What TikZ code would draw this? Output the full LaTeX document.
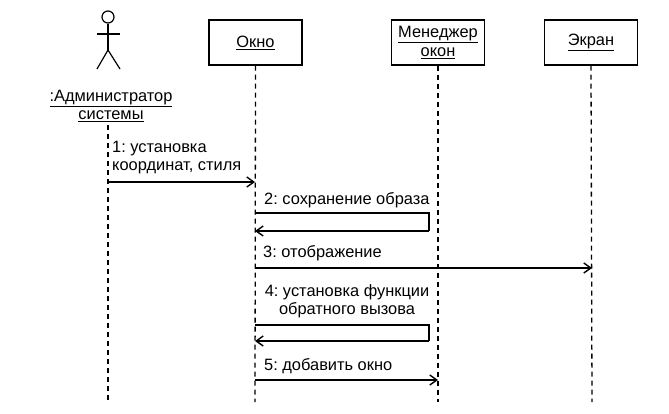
\documentclass[tikz,border=0pt]{standalone}
\usepackage{fontspec}
\setmainfont{Liberation Sans}
\usetikzlibrary{arrows.meta}
\frenchspacing
\begin{document}
\begin{tikzpicture}[x=1pt,y=-1pt,
  obj/.style={draw,line width=1.4pt,minimum width=93pt,minimum height=45pt,inner sep=0pt,align=center,font=\fontsize{16.4}{19.5}\selectfont},
  life/.style={line width=1.3pt,dash pattern=on 5pt off 4pt},
  msgline/.style={line width=1.4pt},
  msg/.style={msgline,-{Straight Barb[length=7pt,width=10pt,line width=1.4pt]}},
  lbl/.style={inner sep=0pt,font=\fontsize{16.4}{18}\selectfont},
  figure/.style={line width=1.2pt}]
\useasboundingbox (0,0) rectangle (669,413);
% actor
\node[figure,draw,circle,minimum size=12pt,inner sep=0pt] (head) at (108,17) {};
\coordinate (hip) at (108,50);
\coordinate (larm) at (97,34);
\coordinate (rarm) at (120,34);
\coordinate (lleg) at (97,69);
\coordinate (rleg) at (120,69);
\draw[figure] (head.south) -- (hip);
\draw[figure] (larm) -- (rarm);
\draw[figure] (lleg) -- (hip) -- (rleg);
\node[lbl,align=center] (actor) at (111,106) {\underline{:Администратор}\\\underline{системы}};
% objects
\node[obj] (okno) at (255.5,42.5) {\underline{Окно}};
\node[obj] (mgr) at (438,42.5) {\underline{Менеджер}\\\underline{окон}};
\node[obj] (scr) at (591,42.5) {\underline{Экран}};
% lifelines
\coordinate (actorTop) at (108,125);
\coordinate (actorEnd) at (108,402);
\coordinate (oknoEnd) at (255,402);
\coordinate (mgrEnd) at (438,402);
\coordinate (scrEnd) at (592,402);
\draw[life] (actorTop) -- (actorEnd);
\draw[life] (okno.south) -- (oknoEnd);
\draw[life] (mgr.south) -- (mgrEnd);
\draw[life] (scr.south) -- (scrEnd);
% message 1
\coordinate (m1a) at (108,182);
\coordinate (m1b) at (255,182);
\draw[msg] (m1a) -- (m1b);
\node[lbl,align=left,anchor=south west] (l1) at (112,174) {1: установка\\координат, стиля};
% message 2
\coordinate (m2a) at (255,213);
\coordinate (m2r) at (429,213);
\coordinate (m2s) at (429,231);
\coordinate (m2b) at (255,231);
\draw[msgline] (m2a) -- (m2r) -- (m2s);
\draw[msg] (m2s) -- (m2b);
\node[lbl,anchor=south west] (l2) at (264,208) {2: сохранение образа};
% message 3
\coordinate (m3a) at (255,268);
\coordinate (m3b) at (592,268);
\draw[msg] (m3a) -- (m3b);
\node[lbl,anchor=south west] (l3) at (263,261) {3: отображение};
% message 4
\coordinate (m4a) at (255,325);
\coordinate (m4r) at (429,325);
\coordinate (m4s) at (429,341);
\coordinate (m4b) at (255,341);
\draw[msgline] (m4a) -- (m4r) -- (m4s);
\draw[msg] (m4s) -- (m4b);
\node[lbl,align=center,anchor=south] (l4) at (347,318) {4: установка функции\\обратного вызова};
% message 5
\coordinate (m5a) at (255,380);
\coordinate (m5b) at (438,380);
\draw[msg] (m5a) -- (m5b);
\node[lbl,anchor=south west] (l5) at (264,374) {5: добавить окно};
\end{tikzpicture}
\end{document}
